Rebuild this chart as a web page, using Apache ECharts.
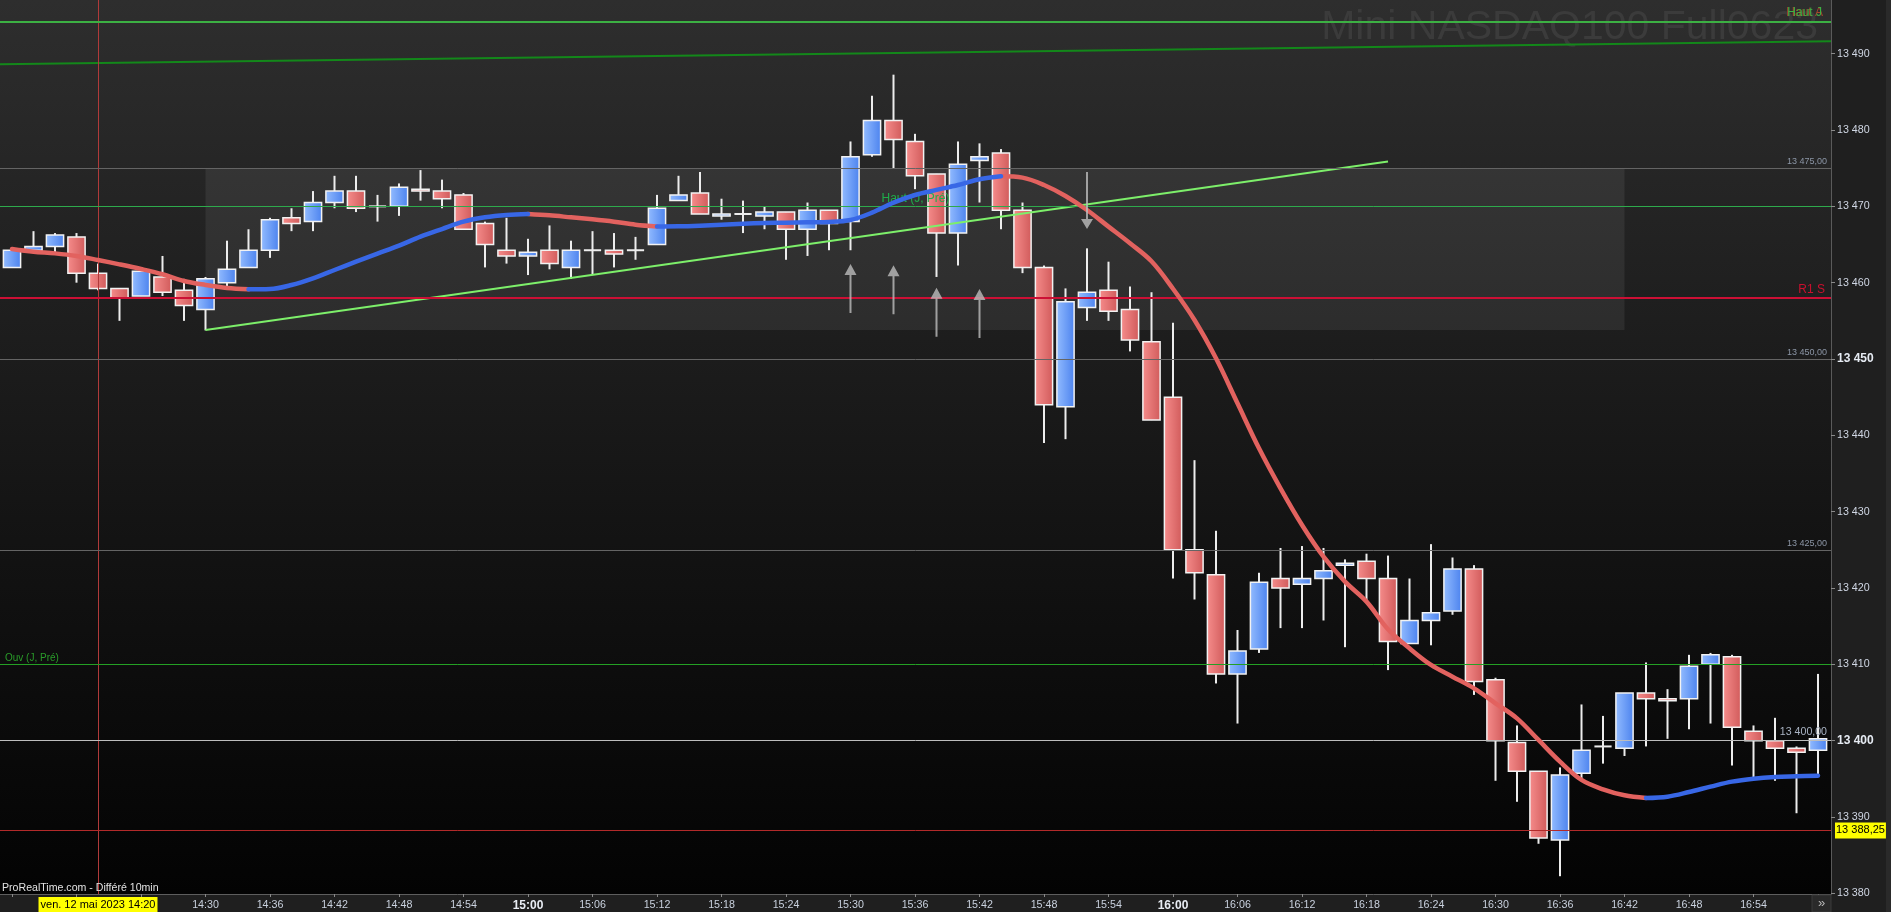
<!DOCTYPE html>
<html><head><meta charset="utf-8">
<script src="https://cdn.jsdelivr.net/npm/echarts@6/dist/echarts.min.js"></script>
<style>html,body{margin:0;padding:0;background:#1f1f1f;overflow:hidden}#c{width:1891px;height:912px}</style>
</head><body><div id="c"></div>
<script>
// ---------- data ----------
const times = ['14:12','14:14','14:16','14:18','14:20','14:22','14:24','14:26','14:28','14:30','14:32','14:34','14:36','14:38','14:40','14:42','14:44','14:46','14:48','14:50','14:52','14:54','14:56','14:58','15:00','15:02','15:04','15:06','15:08','15:10','15:12','15:14','15:16','15:18','15:20','15:22','15:24','15:26','15:28','15:30','15:32','15:34','15:36','15:38','15:40','15:42','15:44','15:46','15:48','15:50','15:52','15:54','15:56','15:58','16:00','16:02','16:04','16:06','16:08','16:10','16:12','16:14','16:16','16:18','16:20','16:22','16:24','16:26','16:28','16:30','16:32','16:34','16:36','16:38','16:40','16:42','16:44','16:46','16:48','16:50','16:52','16:54','16:56','16:58','17:00'];
const opens = [13462.0,13464.25,13464.75,13466.0,13461.25,13459.25,13458.25,13460.75,13459.0,13456.5,
13460.0,13462.0,13464.25,13468.5,13468.0,13470.5,13472.0,13470.0,13470.0,13472.25,
13472.0,13471.5,13467.75,13464.25,13463.5,13464.25,13462.0,13464.25,13464.25,13464.25,
13465.0,13470.75,13471.75,13468.75,13469.0,13468.75,13469.25,13467.0,13469.5,13468.0,
13476.75,13481.25,13478.5,13474.25,13466.5,13476.0,13477.0,13469.5,13462.0,13443.75,
13456.75,13459.0,13456.5,13452.25,13445.0,13425.0,13421.75,13408.75,13412.0,13421.25,
13420.5,13421.25,13423.0,13423.5,13421.25,13412.75,13415.75,13417.0,13422.5,13408.0,
13399.75,13396.0,13387.0,13395.75,13399.25,13399.0,13406.25,13405.5,13405.5,13410.0,
13411.0,13401.25,13400.0,13399.0,13398.75];
const closes = [13464.25,13464.75,13466.25,13461.25,13459.25,13458.0,13461.5,13458.75,13457.0,13460.5,
13461.75,13464.25,13468.25,13467.75,13470.5,13472.0,13469.75,13470.0,13472.5,13472.0,
13471.0,13467.0,13465.0,13463.5,13464.0,13462.5,13464.25,13464.25,13463.75,13464.25,
13469.75,13471.5,13469.0,13469.0,13469.0,13469.25,13467.0,13469.5,13467.75,13476.5,
13481.25,13478.75,13474.0,13466.5,13475.5,13476.5,13469.5,13462.0,13444.0,13457.5,
13458.75,13456.25,13452.5,13442.0,13425.0,13422.0,13408.75,13411.75,13420.75,13420.0,
13421.25,13422.25,13423.25,13421.25,13413.0,13415.75,13416.75,13422.5,13407.75,13400.0,
13396.0,13387.25,13395.5,13398.75,13399.25,13406.25,13405.5,13405.25,13409.75,13411.25,
13401.75,13400.0,13399.0,13398.5,13400.25];
const lows = [13462.0,13464.25,13463.75,13460.0,13459.0,13455.0,13458.25,13458.25,13455.0,13453.75,
13459.5,13462.0,13463.25,13466.75,13466.75,13469.75,13469.25,13468.0,13468.75,13470.75,
13469.75,13467.0,13462.0,13462.5,13461.0,13461.75,13460.5,13461.0,13462.0,13463.0,
13465.0,13470.75,13469.0,13468.25,13466.5,13467.0,13463.0,13463.5,13464.25,13464.25,
13476.5,13475.0,13472.25,13460.75,13462.25,13470.5,13467.0,13461.25,13439.0,13439.5,
13455.0,13455.0,13451.0,13442.0,13421.25,13418.5,13407.5,13402.25,13411.5,13414.75,
13414.75,13415.75,13412.25,13418.25,13409.25,13412.75,13412.5,13416.5,13406.0,13394.75,
13392.0,13386.5,13382.25,13394.75,13397.0,13398.0,13399.25,13400.25,13401.5,13402.25,
13396.75,13395.25,13394.75,13390.5,13395.5];
const highs = [13464.5,13466.75,13466.5,13466.5,13462.5,13459.25,13461.5,13463.5,13460.5,13460.75,
13465.5,13467.0,13468.5,13469.75,13472.0,13474.0,13474.0,13471.5,13473.0,13474.75,
13473.5,13471.75,13468.0,13468.5,13465.75,13467.5,13465.5,13466.75,13466.5,13466.0,
13471.5,13474.0,13474.5,13471.0,13470.75,13470.0,13469.25,13470.5,13469.5,13478.5,
13484.5,13487.25,13479.5,13474.25,13478.5,13478.25,13477.5,13470.5,13462.25,13459.25,
13464.5,13462.75,13459.5,13458.75,13454.75,13436.75,13427.5,13414.5,13422.0,13425.25,
13425.5,13425.25,13423.75,13424.5,13424.25,13421.25,13425.75,13424.0,13423.0,13408.25,
13402.0,13396.0,13396.5,13404.75,13403.25,13406.25,13410.25,13406.75,13411.25,13411.5,
13411.25,13402.0,13403.0,13399.25,13408.75];
const maValues = [13464.41,13464.06,13463.84,13463.5,13462.97,13462.4,13461.79,13461.1,13460.22,13459.7,
13459.3,13459.13,13459.17,13459.7,13460.57,13461.66,13462.75,13463.8,13464.85,13466.03,
13467.03,13467.99,13468.56,13468.87,13469.0,13468.82,13468.56,13468.3,13467.99,13467.6,
13467.36,13467.38,13467.47,13467.6,13467.73,13467.82,13467.86,13467.9,13467.95,13468.21,
13469.17,13470.48,13471.49,13472.15,13472.8,13473.54,13473.93,13473.76,13472.8,13471.36,
13469.52,13467.34,13465.16,13462.8,13459.2,13455.11,13450.09,13444.2,13438.3,13433.06,
13428.26,13424.11,13420.84,13418.22,13414.6,13412.1,13409.92,13408.39,13406.86,13404.9,
13402.93,13400.1,13397.26,13394.86,13393.63,13392.85,13392.5,13392.67,13393.28,13393.98,
13394.64,13395.03,13395.25,13395.34,13395.42];
const yTickValues = [13380,13390,13400,13410,13420,13430,13440,13450,13460,13470,13480,13490];
const xTickTimes = ['14:12','14:18','14:24','14:30','14:36','14:42','14:48','14:54','15:00','15:06','15:12','15:18','15:24','15:30','15:36','15:42','15:48','15:54','16:00','16:06','16:12','16:18','16:24','16:30','16:36','16:42','16:48','16:54','17:00'];
const xLabelTimes = ['14:30','14:36','14:42','14:48','14:54','15:00','15:06','15:12','15:18','15:24','15:30','15:36','15:42','15:48','15:54','16:00','16:06','16:12','16:18','16:24','16:30','16:36','16:42','16:48','16:54'];
const levelValues = [13494.19,13494.19,13475,13470,13458,13450,13425,13410,13400,13388.25];
const levelNames = ['Haut A','Haut J','13 475,00','Haut (J, Pré)','R1 S','13 450,00','13 425,00','Ouv (J, Pré)','13 400,00','13 388,25'];
const cursorTime = '14:20';
const cursorLabel = 'ven. 12 mai 2023 14:20';
const trendDark = [[850.884,13488.61],[1021.209,13491.62]];
const trendLight = [['14:30',13453.8],['16:20',13475.86]];
const zoneTimes = ['14:30','16:42'];
const zonePrices = [13453.8,13475];
const upArrowTimes = ['15:30','15:34','15:38','15:42'];
const upArrowPrices = [13462.45,13462.28,13459.34,13459.17];
const downArrowTimes = ['15:52'];
const downArrowPrices = [13467.03];
const titleText = 'Mini NASDAQ100 Full0623';
const footerText = 'ProRealTime.com - Différé 10min';

// ---------- helpers ----------
const toMin = s => typeof s === 'number' ? s : (+s.split(':')[0]) * 60 + (+s.split(':')[1]);
const fmtTime = m => { const h = Math.floor(m / 60), mm = Math.round(m - h * 60); return h + ':' + String(mm).padStart(2, '0'); };
const fmtNum = v => String(v).replace(/\B(?=(\d{3})+(?!\d))/g, ' ');
const X_MIN = 850.884, X_MAX = 1021.209, Y_MIN = 13379.92, Y_MAX = 13497.03;
const FONT = '"Liberation Sans", Arial, sans-serif';

const candleData = times.map((t, i) => [toMin(t), opens[i], closes[i], lows[i], highs[i]]);
const n = maValues.length;
const maRed = [], maBlue = [];
for (let i = 0; i < n; i++) {
  const t = toMin(times[i]);
  const redIn = i > 0 && maValues[i] < maValues[i - 1];
  const redOut = i < n - 1 && maValues[i + 1] < maValues[i];
  const blueIn = i > 0 && maValues[i] >= maValues[i - 1];
  const blueOut = i < n - 1 && maValues[i + 1] >= maValues[i];
  maRed.push([t, (redIn || redOut) ? maValues[i] : null]);
  maBlue.push([t, (blueIn || blueOut) ? maValues[i] : null]);
}

const redGrad = () => new echarts.graphic.LinearGradient(0, 0, 1, 0, [{offset: 0, color: '#f68d8c'}, {offset: 1, color: '#d05a5a'}]);
const blueGrad = () => new echarts.graphic.LinearGradient(0, 0, 1, 0, [{offset: 0, color: '#93bcff'}, {offset: 1, color: '#4b82ee'}]);

function renderCandle(params, api) {
  const t = api.value(0), o = api.value(1), c = api.value(2), l = api.value(3), h = api.value(4);
  const pO = api.coord([t, o]), pC = api.coord([t, c]), pL = api.coord([t, l]), pH = api.coord([t, h]);
  const w = api.size([2, 0])[0] * 0.8;
  const x = pO[0];
  const children = [{type: 'line', shape: {x1: x, y1: pH[1], x2: x, y2: pL[1]}, style: {stroke: '#ededed', lineWidth: 2}}];
  if (o === c) {
    children.push({type: 'line', shape: {x1: x - w / 2, y1: pO[1], x2: x + w / 2, y2: pO[1]}, style: {stroke: '#ededed', lineWidth: 2}});
  } else {
    const top = Math.min(pO[1], pC[1]), bot = Math.max(pO[1], pC[1]);
    children.push({type: 'rect', shape: {x: x - w / 2, y: top, width: w, height: Math.max(bot - top, 1)},
      style: {fill: c > o ? blueGrad() : redGrad(), stroke: '#f2f2f2', lineWidth: 1.5}});
  }
  return {type: 'group', children};
}

// level line styles (index-aligned with levelValues)
const levelStyles = [
  {line: {color: '#b83228', width: 2}, label: {position: 'insideEndTop', distance: [8, 3], color: '#a8442c', fontSize: 12}},
  {line: {color: '#3cb043', width: 2}, label: {position: 'insideEndTop', distance: [9, 3], color: '#3cb043', fontSize: 12}},
  {line: {color: '#646464', width: 1}, label: {position: 'insideEndTop', distance: [4, 2], color: '#8c96a6', fontSize: 9}},
  {line: {color: '#2eaa4c', width: 1}, label: {position: 'insideMiddleTop', distance: [0, 2], color: '#1fae4a', fontSize: 12}},
  {line: {color: '#cc1035', width: 2}, label: {position: 'insideEndTop', distance: [6, 2], color: '#c8102e', fontSize: 12}},
  {line: {color: '#646464', width: 1}, label: {position: 'insideEndTop', distance: [4, 2], color: '#8c96a6', fontSize: 9}},
  {line: {color: '#646464', width: 1}, label: {position: 'insideEndTop', distance: [4, 2], color: '#8c96a6', fontSize: 9}},
  {line: {color: '#24a024', width: 1}, label: {position: 'insideStartTop', distance: [5, 1], color: '#2a9d2a', fontSize: 10}},
  {line: {color: '#bdbdbd', width: 1}, label: {position: 'insideEndTop', distance: [4, 3], color: '#a9b3c3', fontSize: 10.6}},
  {line: {color: '#b22a2a', width: 1}, label: {position: 'end', distance: 4, color: '#000', fontSize: 11, backgroundColor: '#ffff00', padding: [3, 1, 2, 1]}}
];

const levelLines = levelValues.map((v, i) => ({
  yAxis: v, name: levelNames[i],
  lineStyle: Object.assign({type: 'solid'}, levelStyles[i].line),
  label: Object.assign({show: true, formatter: '{b}', fontFamily: FONT}, levelStyles[i].label)
}));
levelLines.unshift({
  xAxis: toMin(cursorTime), name: cursorLabel,
  lineStyle: {type: 'solid', color: '#b03a3a', width: 1},
  label: {show: true, position: 'start', distance: 3, formatter: '{b}', color: '#000', fontSize: 11, fontFamily: FONT, backgroundColor: '#ffff00', padding: [2, 2, 2, 2]}
});

const chart = echarts.init(document.getElementById('c'), null, {renderer: 'canvas'});
chart.setOption({
  animation: false,
  backgroundColor: '#1f1f1f',
  grid: {left: 0, right: 60, top: 0, bottom: 18, show: true, borderWidth: 0,
    backgroundColor: {type: 'linear', x: 0, y: 0, x2: 0, y2: 1, colorStops: [
      {offset: 0, color: '#2e2e2e'}, {offset: 0.58, color: '#141414'}, {offset: 1, color: '#030303'}]}},
  xAxis: {
    type: 'value', min: X_MIN, max: X_MAX,
    axisLine: {show: true, onZero: false, lineStyle: {color: '#5e5e5e'}},
    axisTick: {show: true, length: 3, customValues: xTickTimes.map(toMin), lineStyle: {color: '#8a8a8a'}},
    axisLabel: {show: true, margin: 6, color: '#c9d1de', fontSize: 10.7, fontFamily: FONT,
      customValues: xLabelTimes.map(toMin),
      formatter: v => (Math.round(v) % 60 === 0 ? '{b|' + fmtTime(v) + '}' : fmtTime(v)),
      rich: {b: {fontWeight: 'bold', fontSize: 12, color: '#e9edf4', fontFamily: FONT}}},
    splitLine: {show: false}
  },
  yAxis: {
    type: 'value', position: 'right', min: Y_MIN, max: Y_MAX,
    axisLine: {show: true, lineStyle: {color: '#5a5a5a'}},
    axisTick: {show: true, length: 4, customValues: yTickValues, lineStyle: {color: '#8a8a8a'}},
    axisLabel: {show: true, margin: 6, color: '#d0d7e4', fontSize: 10.7, fontFamily: FONT,
      customValues: yTickValues,
      formatter: v => (v % 50 === 0 ? '{b|' + fmtNum(v) + '}' : fmtNum(v)),
      rich: {b: {fontWeight: 'bold', fontSize: 12, color: '#e6ebf3', fontFamily: FONT}}},
    splitLine: {show: false}
  },
  graphic: [
    {type: 'rect', shape: {x: 1886, y: 0, width: 5, height: 912}, z: 0, silent: true, style: {fill: '#2a2a2a'}},
    {type: 'text', x: 1818, y: 28, z: 1, silent: true,
      style: {text: titleText, fill: '#3b3b3b', font: '41px ' + FONT, align: 'right', verticalAlign: 'middle'}},
    {type: 'text', x: 2, y: 888, z: 10, silent: true,
      style: {text: footerText, fill: '#e2e2e2', font: '10.6px ' + FONT, align: 'left', verticalAlign: 'middle'}},
    {type: 'rect', shape: {x: 1812, y: 895, width: 19, height: 17}, z: 20, silent: true, style: {fill: '#2a2a2a', stroke: '#3a3a3a', lineWidth: 1}},
    {type: 'text', x: 1821.5, y: 903, z: 21, silent: true, style: {text: '»', fill: '#b8b8b8', font: '13px ' + FONT, align: 'center', verticalAlign: 'middle'}}
  ],
  series: [
    {type: 'line', name: 'zone', data: [], z: 2, silent: true,
      markArea: {silent: true, itemStyle: {color: 'rgba(255,255,255,0.07)'},
        data: [[{xAxis: toMin(zoneTimes[0]), yAxis: zonePrices[0]}, {xAxis: toMin(zoneTimes[1]), yAxis: zonePrices[1]}]]}},
    {type: 'custom', name: 'candles', renderItem: renderCandle, data: candleData, z: 3, clip: true, silent: true,
      encode: {x: 0, y: [1, 2, 3, 4]}},
    {type: 'line', name: 'levels', data: [], z: 4, silent: true,
      markLine: {silent: true, symbol: 'none', animation: false, data: levelLines}},
    {type: 'line', name: 'trendDark', data: trendDark.map(p => [toMin(p[0]), p[1]]), z: 4, silent: true, showSymbol: false,
      lineStyle: {color: '#13881a', width: 2}},
    {type: 'line', name: 'trendLight', data: trendLight.map(p => [toMin(p[0]), p[1]]), z: 4, silent: true, showSymbol: false,
      lineStyle: {color: '#7def6a', width: 2}},
    {type: 'line', name: 'maDown', data: maRed, z: 5, silent: true, showSymbol: false, smooth: 0.35, connectNulls: false,
      lineStyle: {color: '#e2625f', width: 4.5, cap: 'round', join: 'round'}},
    {type: 'line', name: 'maUp', data: maBlue, z: 5, silent: true, showSymbol: false, smooth: 0.35, connectNulls: false,
      lineStyle: {color: '#3867e6', width: 4.5, cap: 'round', join: 'round'}},
    {type: 'scatter', name: 'buy', data: upArrowTimes.map((t, i) => [toMin(t), upArrowPrices[i]]), z: 6, silent: true,
      symbol: 'path://M6,0 L12,11 L7,11 L7,49 L5,49 L5,11 L0,11 Z', symbolSize: [12, 49], symbolOffset: [0, '50%'],
      itemStyle: {color: '#bdbdbd'}},
    {type: 'scatter', name: 'sell', data: downArrowTimes.map((t, i) => [toMin(t), downArrowPrices[i]]), z: 6, silent: true,
      symbol: 'path://M5,0 L7,0 L7,47 L12,47 L6,57 L0,47 L5,47 Z', symbolSize: [12, 57], symbolOffset: [0, '-50%'],
      itemStyle: {color: '#bdbdbd'}}
  ]
});
</script></body></html>
